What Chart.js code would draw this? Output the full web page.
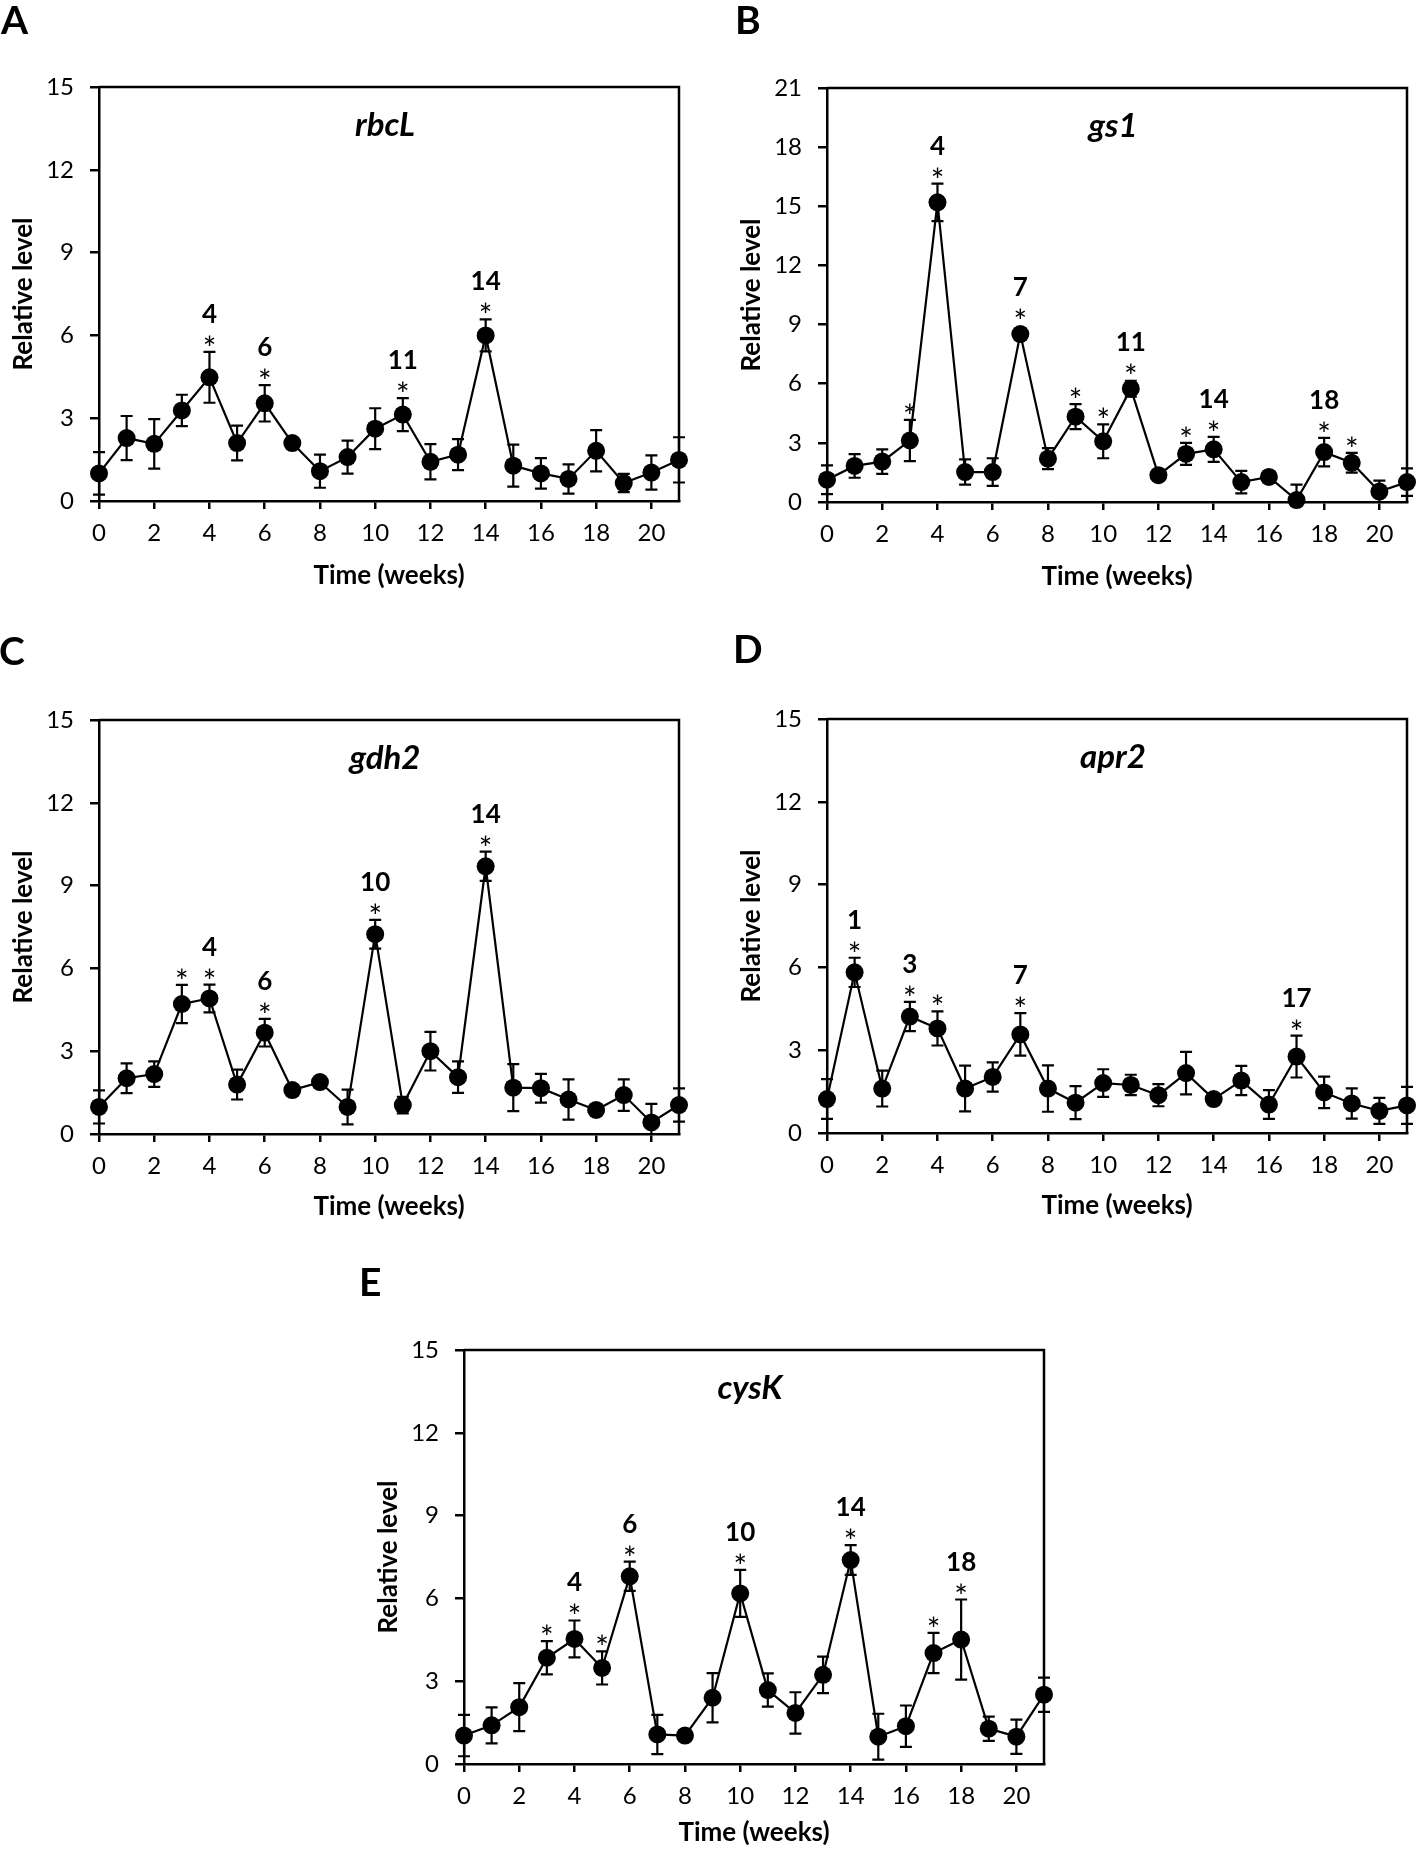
<!DOCTYPE html>
<html>
<head>
<meta charset="utf-8">
<script src="https://cdn.jsdelivr.net/npm/chart.js@4.4.1/dist/chart.umd.min.js"></script>
<style>
  html, body { margin: 0; padding: 0; background: #fff; }
  body { position: relative; width: 1418px; height: 1854px; overflow: hidden; }
  .panel { position: absolute; }
</style>
</head>
<body>
<script>
// Weeks sampled (x axis)
const weeks = [0, 1, 2, 3, 4, 5, 6, 7, 8, 9, 10, 11, 12, 13, 14, 15, 16, 17, 18, 19, 20, 21];

// rbcL
const rbcL = [1.0, 2.28, 2.07, 3.28, 4.48, 2.1, 3.54, 2.1, 1.08, 1.59, 2.62, 3.13, 1.42, 1.68, 6.0, 1.28, 1.0, 0.8, 1.82, 0.65, 1.03, 1.49];
const rbcLErr = [0.77, 0.8, 0.9, 0.57, 0.92, 0.63, 0.66, 0.1, 0.6, 0.6, 0.74, 0.6, 0.64, 0.56, 0.58, 0.76, 0.55, 0.53, 0.75, 0.33, 0.62, 0.82];
const rbcLStars = [4, 6, 11, 14];
const rbcLMarks = [4, 6, 11, 14];

// gs1
const gs1 = [1.13, 1.83, 2.05, 3.12, 15.2, 1.52, 1.52, 8.52, 2.2, 4.33, 3.08, 5.75, 1.36, 2.44, 2.67, 1.01, 1.27, 0.1, 2.53, 1.99, 0.53, 1.01];
const gs1Err = [0.73, 0.6, 0.62, 1.05, 0.95, 0.64, 0.7, 0.3, 0.53, 0.63, 0.86, 0.4, 0.1, 0.56, 0.63, 0.57, 0.15, 0.78, 0.72, 0.5, 0.55, 0.7];
const gs1Stars = [3, 4, 7, 9, 10, 11, 13, 14, 18, 19];
const gs1Marks = [4, 7, 11, 14, 18];

// gdh2
const gdh2 = [0.98, 2.02, 2.17, 4.71, 4.91, 1.79, 3.67, 1.59, 1.88, 0.98, 7.24, 1.05, 3.0, 2.06, 9.7, 1.68, 1.66, 1.25, 0.87, 1.41, 0.42, 1.05];
const gdh2Err = [0.6, 0.54, 0.46, 0.69, 0.5, 0.54, 0.5, 0.1, 0.1, 0.63, 0.52, 0.3, 0.7, 0.57, 0.53, 0.85, 0.52, 0.73, 0.1, 0.57, 0.67, 0.6];
const gdh2Stars = [3, 4, 6, 10, 14];
const gdh2Marks = [4, 6, 10, 14];

// apr2
const apr2 = [1.23, 5.82, 1.61, 4.22, 3.79, 1.61, 2.03, 3.57, 1.61, 1.1, 1.81, 1.74, 1.37, 2.17, 1.23, 1.9, 1.03, 2.77, 1.47, 1.07, 0.8, 1.0];
const apr2Err = [0.72, 0.53, 0.65, 0.53, 0.62, 0.83, 0.53, 0.77, 0.84, 0.6, 0.5, 0.37, 0.4, 0.77, 0.1, 0.53, 0.52, 0.76, 0.57, 0.55, 0.47, 0.67];
const apr2Stars = [1, 3, 4, 7, 17];
const apr2Marks = [1, 3, 7, 17];

// cysK
const cysK = [1.03, 1.4, 2.06, 3.85, 4.53, 3.48, 6.8, 1.07, 1.03, 2.4, 6.18, 2.68, 1.85, 3.23, 7.39, 0.99, 1.37, 4.02, 4.51, 1.28, 0.99, 2.51];
const cysKErr = [0.75, 0.65, 0.87, 0.6, 0.67, 0.6, 0.53, 0.71, 0.1, 0.89, 0.85, 0.6, 0.75, 0.66, 0.54, 0.83, 0.75, 0.73, 1.45, 0.44, 0.62, 0.62];
const cysKStars = [3, 4, 5, 6, 10, 14, 17, 18];
const cysKMarks = [4, 6, 10, 14, 18];

// Panel layout (plot-area left/top in page pixels)
const panels = [
  { letter: 'A', gene: 'rbcL', vals: rbcL, errs: rbcLErr, stars: rbcLStars, marks: rbcLMarks, yMax: 15, left: 99, top: 87, xH: 100, xGap: 75, ldx: -98, ldy: -53 },
  { letter: 'B', gene: 'gs1', vals: gs1, errs: gs1Err, stars: gs1Stars, marks: gs1Marks, yMax: 21, left: 827, top: 88, xH: 100, xGap: 75, ldx: -92, ldy: -54 },
  { letter: 'C', gene: 'gdh2', vals: gdh2, errs: gdh2Err, stars: gdh2Stars, marks: gdh2Marks, yMax: 15, left: 99, top: 720, xH: 100, xGap: 73, ldx: -100, ldy: -55 },
  { letter: 'D', gene: 'apr2', vals: apr2, errs: apr2Err, stars: apr2Stars, marks: apr2Marks, yMax: 15, left: 827, top: 719, xH: 100, xGap: 73, ldx: -94, ldy: -56 },
  { letter: 'E', gene: 'cysK', vals: cysK, errs: cysKErr, stars: cysKStars, marks: cysKMarks, yMax: 15, left: 464, top: 1350, xH: 92, xGap: 69, ldx: -105, ldy: -54 }
];

const PLOT_W = 580, PLOT_H = 414, Y_W = 110, PAD_TOP = 95, PAD_RIGHT = 12;
const FONT = 'Lato';
Chart.defaults.font.family = FONT;
Chart.defaults.color = '#000';

// frame, error bars, stars, gene name and panel letter
function makeDecor(p) {
  return {
    id: 'decor' + p.letter,
    beforeDatasetsDraw(chart) {
      const { ctx, chartArea: a, scales: { x, y } } = chart;
      ctx.save();
      ctx.strokeStyle = '#000';
      ctx.lineWidth = 2.5;
      ctx.beginPath();
      ctx.moveTo(a.left, a.top);
      ctx.lineTo(a.right, a.top);
      ctx.lineTo(a.right, a.bottom);
      ctx.stroke();

      ctx.lineWidth = 2.2;
      p.vals.forEach((v, i) => {
        const px = x.getPixelForValue(weeks[i]);
        const hi = y.getPixelForValue(v + p.errs[i]);
        const lo = y.getPixelForValue(Math.max(v - p.errs[i], 0));
        ctx.beginPath();
        ctx.moveTo(px, hi); ctx.lineTo(px, lo);
        ctx.moveTo(px - 6, hi); ctx.lineTo(px + 6, hi);
        ctx.moveTo(px - 6, lo); ctx.lineTo(px + 6, lo);
        ctx.stroke();
      });
      ctx.restore();
    },
    afterDatasetsDraw(chart) {
      const { ctx, chartArea: a, scales: { x, y } } = chart;
      ctx.save();
      ctx.fillStyle = '#000';
      ctx.textAlign = 'center';
      ctx.textBaseline = 'alphabetic';

      p.stars.forEach(w => {
        const i = weeks.indexOf(w);
        const v = p.vals[i];
        const px = x.getPixelForValue(w);
        const top = Math.min(y.getPixelForValue(v + p.errs[i]), y.getPixelForValue(v) - 9);
        ctx.font = '32px ' + FONT;
        ctx.fillText('*', px, top + 8);
        if (p.marks.includes(w)) {
          ctx.font = 'bold 26px ' + FONT;
          ctx.fillText(String(w), px, top - 29);
        }
      });

      ctx.font = 'italic bold 33px ' + FONT;
      ctx.fillText(p.gene, (a.left + a.right) / 2 - 4, a.top + 49);

      ctx.textAlign = 'left';
      ctx.font = 'bold 39px ' + FONT;
      ctx.fillText(p.letter, a.left + p.ldx, a.top + p.ldy);
      ctx.restore();
    }
  };
}

panels.forEach(p => {
  const box = document.createElement('div');
  box.className = 'panel';
  box.style.left = (p.left - Y_W) + 'px';
  box.style.top = (p.top - PAD_TOP) + 'px';
  box.style.width = (Y_W + PLOT_W + PAD_RIGHT) + 'px';
  box.style.height = (PAD_TOP + PLOT_H + p.xH) + 'px';
  const canvas = document.createElement('canvas');
  box.appendChild(canvas);
  document.body.appendChild(box);

  new Chart(canvas, {
    type: 'line',
    data: {
      datasets: [{
        data: weeks.map((w, i) => ({ x: w, y: p.vals[i] })),
        borderColor: '#000',
        borderWidth: 2.2,
        pointRadius: 9,
        pointBackgroundColor: '#000',
        pointBorderWidth: 0,
        pointHoverRadius: 9,
        tension: 0,
        clip: false
      }]
    },
    options: {
      responsive: true,
      maintainAspectRatio: false,
      animation: false,
      layout: { padding: { top: PAD_TOP, right: PAD_RIGHT, left: 0, bottom: 0 } },
      plugins: { legend: { display: false }, tooltip: { enabled: false } },
      scales: {
        x: {
          type: 'linear',
          min: 0,
          max: 21,
          border: { color: '#000', width: 2.5 },
          grid: { drawOnChartArea: false, color: '#000', lineWidth: 2.5, tickLength: 8 },
          ticks: { stepSize: 2, includeBounds: false, color: '#000', font: { size: 24 }, padding: 10, maxRotation: 0 },
          afterBuildTicks: s => { s.ticks = s.ticks.filter(t => t.value % 2 === 0 && t.value <= 20); },
          title: {
            display: true, text: 'Time (weeks)', color: '#000',
            font: { size: 26, weight: 'bold' },
            padding: { top: 0, bottom: p.xH - p.xGap - 15.6 }
          },
          afterFit: s => { s.height = p.xH; }
        },
        y: {
          min: 0,
          max: p.yMax,
          border: { color: '#000', width: 2.5 },
          grid: { drawOnChartArea: false, color: '#000', lineWidth: 2.5, tickLength: 9 },
          ticks: { stepSize: 3, color: '#000', font: { size: 24 }, padding: 16 },
          title: {
            display: true, text: 'Relative level', color: '#000',
            font: { size: 26, weight: 'bold' },
            padding: { top: 19, bottom: 0 }
          },
          afterFit: s => { s.width = Y_W; }
        }
      }
    },
    plugins: [makeDecor(p)]
  });
});
</script>
</body>
</html>
